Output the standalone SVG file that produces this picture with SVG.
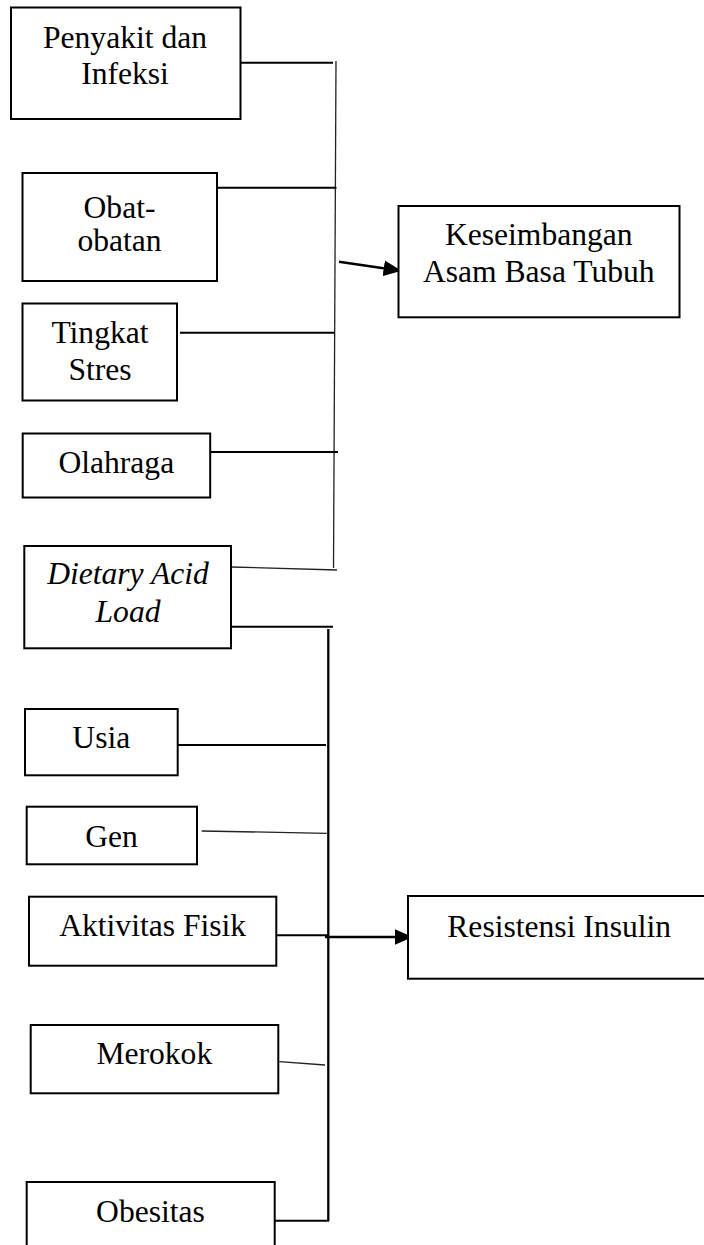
<svg xmlns="http://www.w3.org/2000/svg" width="704" height="1245" viewBox="0 0 704 1245">
<style>
.box{fill:#fff;stroke:#000;stroke-width:2}
.t{font-family:"Liberation Serif","Times New Roman",serif;font-size:31.6px;fill:#000;text-anchor:middle}
.i{font-style:italic}
.ln{stroke:#000;stroke-width:1.9;fill:none}
.vl{stroke:#000;stroke-width:2.3;fill:none}
.thin{stroke:#222;stroke-width:1.3;fill:none}
.arr{stroke:#000;stroke-width:2.6;fill:none}
</style>
<defs>
<marker id="ah" markerUnits="userSpaceOnUse" markerWidth="18" markerHeight="18" viewBox="0 0 17 16" refX="16" refY="8" orient="auto">
<path d="M0,0.5 L17,8 L0,15.5 Z" fill="#000"/>
</marker>
</defs>
<rect width="704" height="1245" fill="#fff"/>
<g id="connectors">
<line class="thin" x1="336" y1="61" x2="333.5" y2="568"/>
<line class="ln" x1="241" y1="62.7" x2="333" y2="62.7"/>
<line class="ln" x1="217" y1="187.7" x2="336.5" y2="187.7"/>
<line class="ln" x1="180" y1="332.7" x2="334" y2="332.7"/>
<line class="ln" x1="210" y1="452" x2="338" y2="452"/>
<line class="thin" x1="231" y1="567" x2="337" y2="570"/>
<line class="arr" x1="339" y1="261.7" x2="400.5" y2="270.7" marker-end="url(#ah)"/>
<line class="ln" x1="231" y1="626.7" x2="333" y2="626.7"/>
<line class="vl" x1="328.3" y1="629" x2="328.3" y2="1221"/>
<line class="ln" x1="178" y1="745" x2="326" y2="745"/>
<line class="thin" x1="201.7" y1="831" x2="326.7" y2="833.3"/>
<line class="ln" x1="276" y1="935.3" x2="328" y2="935.3"/>
<line class="arr" x1="325" y1="937" x2="411.5" y2="937" marker-end="url(#ah)"/>
<line class="thin" x1="279.3" y1="1061.7" x2="325" y2="1065"/>
<line class="ln" x1="275" y1="1220.7" x2="329" y2="1220.7"/>
</g>
<g id="penyakit">
<rect class="box" x="11" y="7.5" width="229.5" height="111.5"/>
<text class="t" x="125" y="47.7">Penyakit dan</text>
<text class="t" x="125" y="84.3">Infeksi</text>
</g>
<g id="obat">
<rect class="box" x="22.5" y="173" width="194.5" height="108"/>
<text class="t" x="119.5" y="218.3">Obat-</text>
<text class="t" x="119.5" y="250.5">obatan</text>
</g>
<g id="stres">
<rect class="box" x="22.5" y="303.5" width="154.5" height="97"/>
<text class="t" x="100" y="342.7">Tingkat</text>
<text class="t" x="100" y="380">Stres</text>
</g>
<g id="olahraga">
<rect class="box" x="22.7" y="433.5" width="187.5" height="64"/>
<text class="t" x="116.3" y="472.7">Olahraga</text>
</g>
<g id="dietary">
<rect class="box" x="24.3" y="546" width="206.7" height="102.3"/>
<text class="t i" x="128" y="584.3">Dietary Acid</text>
<text class="t i" x="128" y="621.7">Load</text>
</g>
<g id="keseimbangan">
<rect class="box" x="398.5" y="206" width="281" height="111.3"/>
<text class="t" x="538.8" y="245">Keseimbangan</text>
<text class="t" x="538.8" y="281.7">Asam Basa Tubuh</text>
</g>
<g id="usia">
<rect class="box" x="25" y="709" width="152.7" height="66.3"/>
<text class="t" x="101.3" y="748.3">Usia</text>
</g>
<g id="gen">
<rect class="box" x="26.7" y="806.7" width="170.3" height="57.6"/>
<text class="t" x="111.5" y="846.7">Gen</text>
</g>
<g id="aktivitas">
<rect class="box" x="29" y="896.7" width="247.3" height="69"/>
<text class="t" x="152.7" y="936">Aktivitas Fisik</text>
</g>
<g id="resistensi">
<rect class="box" x="408" y="896" width="302" height="82.7"/>
<text class="t" x="559.2" y="936.7">Resistensi Insulin</text>
</g>
<g id="merokok">
<rect class="box" x="30.7" y="1025" width="247.6" height="68.3"/>
<text class="t" x="154.3" y="1064">Merokok</text>
</g>
<g id="obesitas">
<rect class="box" x="26.7" y="1182" width="248" height="80"/>
<text class="t" x="150.5" y="1221.7">Obesitas</text>
</g>
</svg>
